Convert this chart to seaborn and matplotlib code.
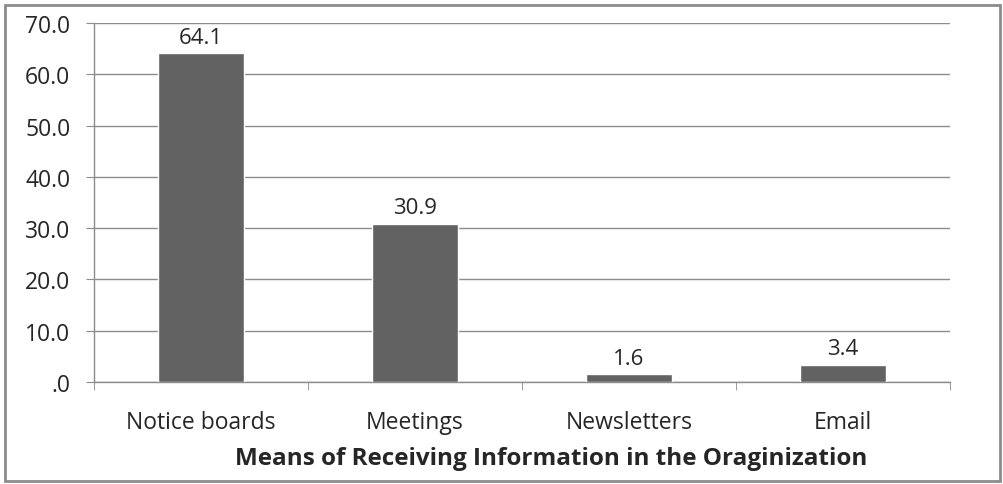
# Bar chart: means of receiving information in the organization

import pandas as pd
import matplotlib
matplotlib.use("Agg")
import matplotlib.pyplot as plt
import matplotlib.ticker as mticker
from matplotlib.patches import Rectangle
import seaborn as sns

# data
categories = ["Notice boards", "Meetings", "Newsletters", "Email"]
percentages = [64.1, 30.9, 1.6, 3.4]
y_ticks = [0, 10, 20, 30, 40, 50, 60, 70]

df = pd.DataFrame({"means": categories, "pct": percentages})

sns.set_style("white")
plt.rcParams["font.family"] = ["Open Sans", "DejaVu Sans"]

fig = plt.figure(figsize=(10.04, 4.85), dpi=100)
ax = fig.add_axes([0.0936, 0.2103, 0.8526, 0.7402])

sns.barplot(data=df, x="means", y="pct", color="#626262", saturation=1,
            width=0.4, ax=ax, zorder=3)

ax.set_ylim(0, 70)
ax.set_xlim(-0.5, 3.5)
ax.set_yticks(y_ticks)

# y labels like 10.0 but zero shown as ".0"
def fmt(v, pos):
    return ".0" if v == 0 else f"{v:.1f}"
ax.yaxis.set_major_formatter(mticker.FuncFormatter(fmt))

ax.yaxis.grid(True, color="#8c8c8c", linewidth=1, zorder=0)
ax.set_axisbelow(True)

for side in ["top", "right"]:
    ax.spines[side].set_visible(False)
for side in ["left", "bottom"]:
    ax.spines[side].set_color("#8c8c8c")
    ax.spines[side].set_linewidth(1)

ax.tick_params(axis="y", direction="out", length=6, color="#8c8c8c",
               labelsize=16.5, pad=11, left=True)
ax.tick_params(axis="x", which="major", length=0, labelsize=16.5, pad=20)
ax.set_xticks([-0.5, 0.5, 1.5, 2.5, 3.5], minor=True)
ax.tick_params(axis="x", which="minor", direction="out", length=6,
               color="#8c8c8c", bottom=True)

# value labels
for i, v in enumerate(percentages):
    ax.text(i, v + 1.0, f"{v:.1f}", ha="center", va="bottom", fontsize=16)

ax.set_ylabel("")
ax.set_xlabel("Means of Receiving Information in the Oraginization",
              fontsize=17.5, fontweight="bold")
# the title sits a bit right of the axes centre, as in the original
ax.xaxis.set_label_coords(0.534, -0.178)

# outer frame of the figure
fig.patches.append(Rectangle((0.005, 0.006), 0.991, 0.982, transform=fig.transFigure,
                             fill=False, edgecolor="#8c8c8c", linewidth=2))

fig.savefig("out.png", dpi=100)
